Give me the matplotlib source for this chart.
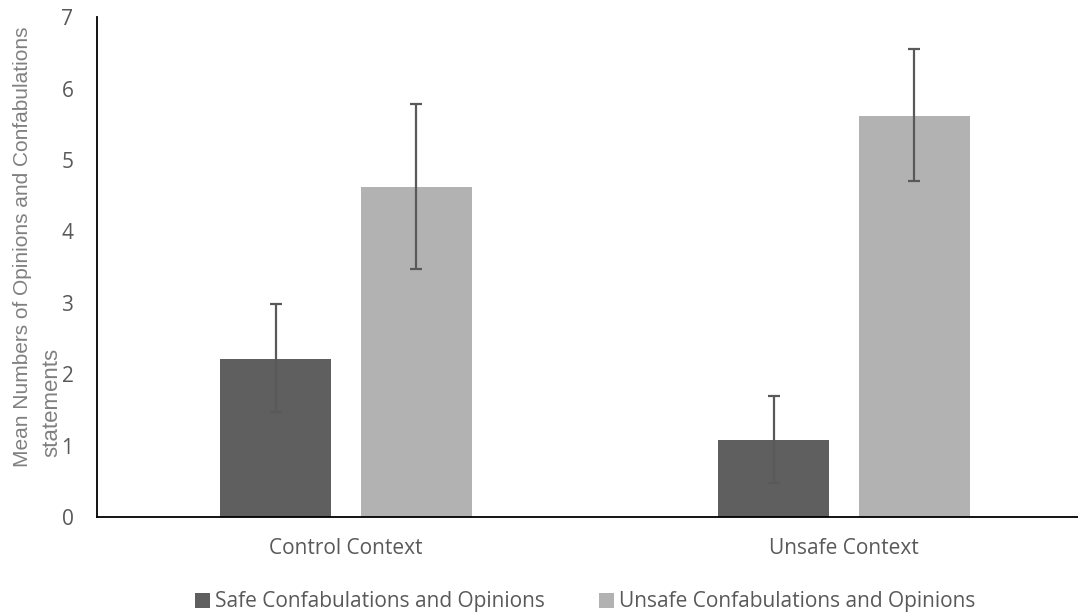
import numpy as np
import matplotlib
matplotlib.use("Agg")
import matplotlib.pyplot as plt

# data
contexts = ["Control Context", "Unsafe Context"]
series_names = ["Safe Confabulations and Opinions", "Unsafe Confabulations and Opinions"]
safe_means = [2.22, 1.08]
safe_low = [1.47, 0.47]
safe_high = [2.99, 1.70]
unsafe_means = [4.62, 5.62]
unsafe_low = [3.47, 4.70]
unsafe_high = [5.78, 6.56]
yticks = [0, 1, 2, 3, 4, 5, 6, 7]

bar_colors = ["#5f5f5f", "#b2b2b2"]
err_color = "#595959"
text_color = "#595959"

fig = plt.figure(figsize=(10.78, 6.15), dpi=100)
ax = fig.add_axes([97 / 1078, 98 / 615, 1 - 97 / 1078, (517 - 17.3) / 615])

x = np.arange(len(contexts))
w = 0.223
off = 0.141

def yerr(means, low, high):
    m = np.array(means)
    return np.vstack([m - np.array(low), np.array(high) - m])

err_kw = dict(ecolor=err_color, elinewidth=1.6, capsize=4.5, capthick=1.6)
b1 = ax.bar(x - off, safe_means, w, color=bar_colors[0], yerr=yerr(safe_means, safe_low, safe_high),
            error_kw=err_kw, label=series_names[0])
b2 = ax.bar(x + off, unsafe_means, w, color=bar_colors[1], yerr=yerr(unsafe_means, unsafe_low, unsafe_high),
            error_kw=err_kw, label=series_names[1])

ax.set_xlim(-0.5, 1.47)
ax.set_ylim(0, 7)
ax.set_yticks(yticks)
ax.set_yticklabels([str(t) for t in yticks], family="Open Sans", fontsize=15, color=text_color)
ax.set_xticks(x)
ax.set_xticklabels(contexts, family="Open Sans", fontsize=15, color=text_color)
ax.tick_params(axis="both", length=0)
ax.tick_params(axis="y", pad=17)
ax.tick_params(axis="x", pad=15)

for s in ["top", "right"]:
    ax.spines[s].set_visible(False)
ax.spines["left"].set_linewidth(1.3)
ax.spines["bottom"].set_linewidth(1.3)

# y label is two lines in the original, second one a bit offset
ylab = dict(rotation=90, ha="center", va="bottom", family="Liberation Sans", color="#808080")
fig.text(22.5 / 1078, (615 - 467) / 615, "Mean Numbers of Opinions and Confabulations", fontsize=15, **ylab)
fig.text(52 / 1078, (615 - 457) / 615, "statements", fontsize=16, **ylab)

fig.legend([b1, b2], series_names, loc="center", bbox_to_anchor=(0.543, 1 - 602 / 615),
           ncol=2, frameon=False, prop={"family": "Open Sans", "size": 15},
           labelcolor=text_color, handlelength=0.7, handleheight=0.7,
           handletextpad=0.25, columnspacing=2.6)

fig.savefig("out.png", dpi=100)
